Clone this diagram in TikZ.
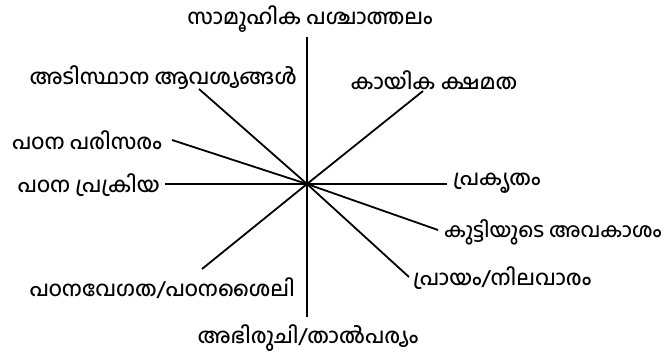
\documentclass[tikz,border=0pt]{standalone}
\usepackage{fontspec}
\newfontfamily\mlfont[Script=Malayalam, UprightFont={* Medium}]{Hind Kochi}
\begin{document}
\begin{tikzpicture}[x=1pt,y=-1pt,
  lbl/.style={font=\mlfont\fontsize{21}{24}\selectfont, inner sep=0pt, text=black},
  ln/.style={line width=1.8pt, black}]
\useasboundingbox (0,0) rectangle (664,356);
\coordinate (c) at (307,184);
% line ends
\coordinate (eT) at (307,37);
\coordinate (eB) at (307,317);
\coordinate (eUL) at (199,89);
\coordinate (ePP) at (172,140);
\coordinate (ePK) at (165,184);
\coordinate (eLL) at (202,269);
\coordinate (eUR) at (423,91);
\coordinate (eR) at (447,184);
\coordinate (eR1) at (438,230);
\coordinate (eR2) at (409,277);
% labels
\node[lbl] (tT) at (310,19) {സാമൂഹിക പശ്ചാത്തലം};
\node[lbl] (tB) at (308,338) {അഭിരുചി/താൽപര്യം};
\node[lbl, anchor=east] (tUL) at (297,78) {അടിസ്ഥാന ആവശ്യങ്ങൾ};
\node[lbl, anchor=east] (tPP) at (162,140) {പഠന പരിസരം};
\node[lbl, anchor=east] (tPK) at (160,185) {പഠന പ്രക്രിയ};
\node[lbl, anchor=east] (tLL) at (295,288) {പഠനവേഗത/പഠനശൈലി};
\node[lbl] (tUR) at (434,80) {കായിക ക്ഷമത};
\node[lbl, anchor=west] (tR) at (453,183) {പ്രകൃതം};
\node[lbl, anchor=west, font=\mlfont\fontsize{20}{23}\selectfont] (tR1) at (444,232) {കുട്ടിയുടെ അവകാശം};
\node[lbl, anchor=west] (tR2) at (413,278) {പ്രായം/നിലവാരം};
% connectors
\foreach \e in {eT,eB,eUL,ePP,ePK,eLL,eUR,eR,eR1,eR2}
  \draw[ln] (c) -- (\e);
\end{tikzpicture}
\end{document}
